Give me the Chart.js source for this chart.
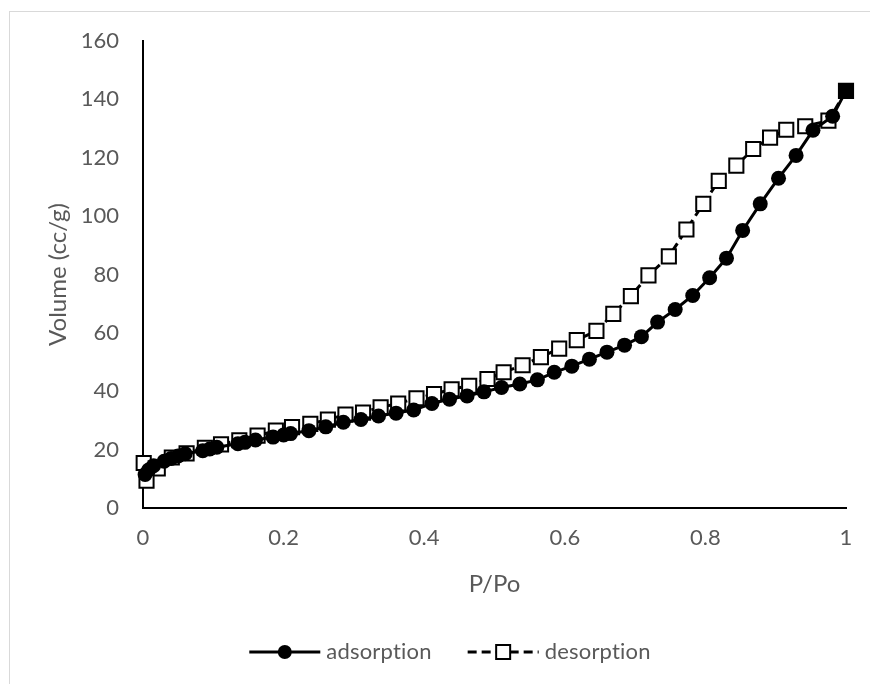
<!DOCTYPE html>
<html>
<head>
<meta charset="utf-8">
<script src="https://cdn.jsdelivr.net/npm/chart.js@4.4.1/dist/chart.umd.min.js"></script>
<style>
  html, body { margin: 0; padding: 0; background: #fff; }
  #wrap { width: 870px; height: 684px; }
</style>
</head>
<body>
<div id="wrap"><canvas id="graph" width="870" height="684"></canvas></div>
<script>
// adsorption branch (P/Po, cc/g)
const adsX = [0.003, 0.008, 0.015, 0.030, 0.040, 0.050, 0.060, 0.085, 0.095, 0.105, 0.135, 0.145,
  0.160, 0.185, 0.200, 0.210, 0.236, 0.260, 0.285, 0.310, 0.335, 0.360, 0.385, 0.411, 0.436, 0.461,
  0.485, 0.510, 0.536, 0.561, 0.585, 0.610, 0.635, 0.660, 0.685, 0.709, 0.732, 0.757, 0.782, 0.806,
  0.830, 0.853, 0.878, 0.904, 0.929, 0.953, 0.981, 1.000];
const adsY = [11.5, 13.0, 14.5, 16.0, 17.0, 17.8, 18.6, 19.6, 20.2, 20.8, 22.0, 22.5,
  23.3, 24.3, 25.0, 25.5, 26.5, 27.8, 29.4, 30.3, 31.5, 32.5, 33.6, 35.8, 37.3, 38.4,
  39.8, 41.3, 42.5, 43.9, 46.5, 48.6, 51.0, 53.4, 55.8, 58.7, 63.7, 68.0, 72.8, 78.9,
  85.6, 95.1, 104.2, 113.0, 120.8, 129.4, 134.2, 142.9];

// desorption branch
const desX = [1.000, 0.975, 0.942, 0.915, 0.892, 0.868, 0.844, 0.819, 0.797, 0.773, 0.748, 0.719,
  0.694, 0.669, 0.645, 0.617, 0.592, 0.566, 0.540, 0.513, 0.490, 0.464, 0.439, 0.414, 0.389, 0.363,
  0.338, 0.313, 0.288, 0.263, 0.238, 0.212, 0.189, 0.163, 0.137, 0.111, 0.088, 0.062, 0.041, 0.021,
  0.005, 0.001];
const desY = [142.9, 132.7, 130.8, 129.6, 126.9, 123.0, 117.3, 112.1, 104.2, 95.4, 86.2, 79.7,
  72.6, 66.5, 60.7, 57.5, 54.6, 51.7, 48.9, 46.5, 44.2, 41.9, 40.7, 39.0, 37.6, 35.8,
  34.5, 32.7, 32.0, 30.3, 28.8, 27.7, 26.5, 24.8, 23.2, 21.8, 20.6, 18.7, 17.3, 13.6,
  9.4, 15.4];

const seriesNames = ['adsorption', 'desorption'];
const xTicks = [0, 0.2, 0.4, 0.6, 0.8, 1];
const yTicks = [0, 20, 40, 60, 80, 100, 120, 140, 160];

const FONT = 'Lato';
const GREY = '#595959';

const frame = {
  id: 'frame',
  beforeDraw(chart) {
    const ctx = chart.ctx;
    ctx.save();
    ctx.strokeStyle = '#d9d9d9';
    ctx.lineWidth = 1;
    ctx.strokeRect(9.5, 11.5, 900, 700);
    ctx.restore();
  }
};

// legend like the office one: line - marker - line, then text
const lineLegend = {
  id: 'lineLegend',
  afterDraw(chart) {
    const ctx = chart.ctx;
    const y = 652;
    ctx.save();
    ctx.font = '22px ' + FONT;
    ctx.textBaseline = 'middle';
    if ('letterSpacing' in ctx) ctx.letterSpacing = '0.2px'; // stops the "ti" ligature
    const lineLen = 71, gapText = 6, gapItem = 36;
    const w0 = ctx.measureText(seriesNames[0]).width;
    const w1 = ctx.measureText(seriesNames[1]).width;
    const total = lineLen + gapText + w0 + gapItem + lineLen + gapText + w1;
    let x = 450 - total / 2;

    // adsorption
    ctx.strokeStyle = '#000';
    ctx.lineWidth = 3;
    ctx.setLineDash([]);
    ctx.beginPath(); ctx.moveTo(x, y); ctx.lineTo(x + lineLen, y); ctx.stroke();
    ctx.fillStyle = '#000';
    ctx.beginPath(); ctx.arc(x + lineLen / 2, y, 7, 0, Math.PI * 2); ctx.fill();
    x += lineLen + gapText;
    ctx.fillStyle = GREY;
    ctx.fillText(seriesNames[0], x, y);
    x += w0 + gapItem;

    // desorption
    ctx.setLineDash([9, 5]);
    ctx.beginPath(); ctx.moveTo(x, y); ctx.lineTo(x + lineLen, y); ctx.stroke();
    ctx.setLineDash([]);
    ctx.fillStyle = '#fff';
    ctx.lineWidth = 2;
    ctx.fillRect(x + lineLen / 2 - 7, y - 7, 14, 14);
    ctx.strokeRect(x + lineLen / 2 - 7, y - 7, 14, 14);
    x += lineLen + gapText;
    ctx.fillStyle = GREY;
    ctx.fillText(seriesNames[1], x, y);
    ctx.restore();
  }
};

function build() {
  const ctx = document.getElementById('graph').getContext('2d');
  new Chart(ctx, {
    type: 'line',
    data: {
      datasets: [{
        label: seriesNames[0],
        data: adsX.map((x, i) => ({ x: x, y: adsY[i] })),
        clip: false,
        borderColor: '#000',
        borderWidth: 3,
        backgroundColor: '#000',
        pointStyle: 'circle',
        pointRadius: 7.5,
        pointBorderWidth: 0,
        pointBackgroundColor: '#000',
      }, {
        label: seriesNames[1],
        data: desX.map((x, i) => ({ x: x, y: desY[i] })),
        clip: false,
        borderColor: '#000',
        borderWidth: 3,
        borderDash: [9, 5],
        pointStyle: 'rect',
        pointRadius: 10,
        pointBorderWidth: 2,
        pointBorderColor: '#000',
        pointBackgroundColor: c => c.dataIndex === 0 ? '#000' : '#fff',
      }]
    },
    options: {
      responsive: false,
      animation: false,
      devicePixelRatio: 1,
      layout: { padding: { left: 0, top: 41, right: 24, bottom: 80 } },
      elements: { line: { tension: 0 } },
      plugins: {
        legend: { display: false },
        tooltip: { enabled: false }
      },
      scales: {
        x: {
          type: 'linear',
          min: 0, max: 1,
          afterBuildTicks: s => { s.ticks = xTicks.map(v => ({ value: v })); },
          afterFit: s => { s.height = 96; },
          grid: { display: false, drawTicks: false },
          border: { display: true, color: '#000', width: 2 },
          ticks: {
            padding: 17,
            color: GREY,
            font: { family: FONT, size: 22 },
            callback: v => String(Math.round(v * 10) / 10)
          },
          title: {
            display: true,
            text: 'P/Po',
            color: GREY,
            font: { family: FONT, size: 24 },
            padding: { top: 0, bottom: 5 }
          }
        },
        y: {
          type: 'linear',
          min: 0, max: 160,
          afterBuildTicks: s => { s.ticks = yTicks.map(v => ({ value: v })); },
          afterFit: s => { s.width = 143; },
          grid: { display: false, drawTicks: false },
          border: { display: true, color: '#000', width: 2 },
          ticks: {
            padding: 24,
            color: GREY,
            font: { family: FONT, size: 22 }
          },
          title: {
            display: true,
            text: 'Volume (cc/g)',
            color: GREY,
            font: { family: FONT, size: 24 },
            padding: { top: 44, bottom: 0 }
          }
        }
      }
    },
    plugins: [frame, lineLegend]
  });
}

document.fonts.load('22px ' + FONT).then(build, build);
</script>
</body>
</html>
